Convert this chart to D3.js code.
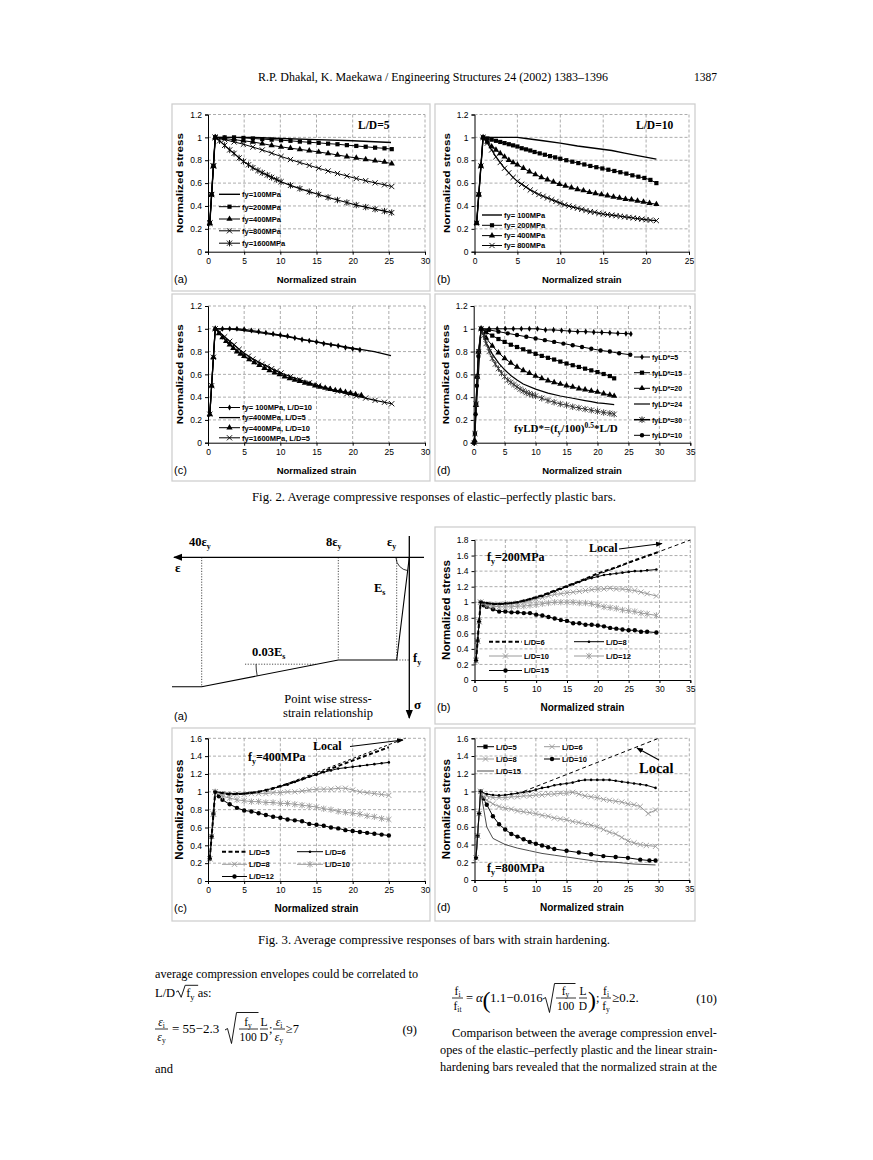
<!DOCTYPE html>
<html><head><meta charset="utf-8">
<script src="https://cdn.jsdelivr.net/npm/d3@7"></script>
<style>body{margin:0;background:#fff}svg{display:block}</style>
</head><body>
<script>
// ================= DATA =================
// tick values
const xt25 = [0,5,10,15,20,25];
const xt30 = [0,5,10,15,20,25,30];
const xt35 = [0,5,10,15,20,25,30,35];
const yt12 = [0,0.2,0.4,0.6,0.8,1,1.2];
const yt16 = [0,0.2,0.4,0.6,0.8,1,1.2,1.4,1.6];
const yt18 = [0,0.2,0.4,0.6,0.8,1,1.2,1.4,1.6,1.8];
const elastic = [[0.25,0.25],[0.5,0.5],[0.75,0.75]];

// Fig 2(a) L/D=5
const f2a_fy100 = [[1,1],[3,1],[6,1],[10,0.99],[15,0.98],[20,0.97],[25.3,0.955]];
const f2a_fy200 = [[1,1],[2.3,1],[3.6,1],[4.9,0.995],[6.2,0.99],[7.5,0.985],[8.8,0.98],[10.1,0.975],[11.4,0.97],[12.7,0.963],[14,0.957],[15.3,0.952],[16.6,0.945],[17.9,0.94],[19.2,0.932],[20.5,0.925],[21.8,0.918],[23.1,0.91],[24.4,0.904],[25.4,0.897]];
const f2a_fy400 = [[1,1],[2.3,0.99],[3.6,0.98],[4.9,0.97],[6.2,0.96],[7.5,0.945],[8.8,0.93],[10.1,0.917],[11.4,0.905],[12.7,0.895],[14,0.884],[15.3,0.872],[16.6,0.86],[17.9,0.846],[19.2,0.832],[20.5,0.82],[21.8,0.808],[23.1,0.795],[24.4,0.784],[25.4,0.77]];
const f2a_fy800 = [[1,1],[2.3,0.98],[3.6,0.96],[4.9,0.94],[6.2,0.915],[7.5,0.89],[8.8,0.862],[10.1,0.833],[11.4,0.806],[12.7,0.78],[14,0.755],[15.3,0.73],[16.6,0.706],[17.9,0.684],[19.2,0.662],[20.5,0.64],[21.8,0.621],[23.1,0.602],[24.4,0.585],[25.4,0.57]];
const f2a_fy1600 = [[1,1],[1.6,0.97],[2.3,0.93],[3,0.89],[3.6,0.86],[4.3,0.82],[4.9,0.79],[5.6,0.76],[6.2,0.735],[6.9,0.71],[7.5,0.69],[8.2,0.67],[8.8,0.65],[9.5,0.63],[10.1,0.612],[11.4,0.58],[12.7,0.552],[14,0.525],[15.3,0.5],[16.6,0.475],[17.9,0.452],[19.2,0.43],[20.5,0.408],[21.8,0.39],[23.1,0.372],[24.4,0.355],[25.4,0.342]];

// Fig 2(b) L/D=10
const f2b_fy100 = [[1,1],[5,1],[6,0.99],[8,0.97],[10,0.95],[12,0.925],[14,0.905],[16,0.885],[17.5,0.862],[19,0.84],[21.2,0.81]];
const f2b_fy200 = [[1,1],[1.5,0.99],[2,0.98],[2.5,0.97],[3,0.96],[3.5,0.95],[4,0.94],[4.5,0.93],[5,0.92],[5.5,0.905],[6,0.895],[6.5,0.885],[7,0.872],[7.6,0.86],[8.2,0.848],[8.8,0.836],[9.4,0.825],[10,0.813],[10.7,0.8],[11.4,0.787],[12.1,0.775],[12.8,0.763],[13.5,0.75],[14.2,0.739],[14.9,0.728],[15.6,0.717],[16.3,0.706],[17,0.695],[17.7,0.683],[18.4,0.668],[19.1,0.656],[19.8,0.645],[20.5,0.628],[21.2,0.6]];
const f2b_fy400 = [[1,1],[1.5,0.96],[2,0.92],[2.5,0.89],[3,0.86],[3.5,0.83],[4,0.8],[4.5,0.78],[5,0.76],[5.7,0.73],[6.4,0.7],[7.1,0.675],[7.8,0.65],[8.5,0.63],[9.2,0.61],[9.9,0.59],[10.6,0.575],[11.3,0.56],[12,0.545],[12.7,0.535],[13.4,0.52],[14.1,0.51],[14.8,0.5],[15.5,0.49],[16.2,0.48],[16.9,0.47],[17.6,0.46],[18.3,0.455],[19,0.445],[19.7,0.435],[20.4,0.425],[21.2,0.415]];
const f2b_fy800 = [[1,1],[1.5,0.95],[2,0.89],[2.5,0.83],[3,0.78],[3.5,0.73],[4,0.69],[4.5,0.65],[5,0.615],[5.5,0.59],[6,0.565],[6.5,0.54],[7,0.52],[7.5,0.5],[8,0.485],[8.5,0.47],[9,0.455],[9.5,0.44],[10,0.425],[10.5,0.41],[11,0.4],[11.5,0.39],[12,0.38],[12.5,0.37],[13,0.36],[13.5,0.35],[14,0.345],[14.5,0.335],[15,0.33],[15.5,0.325],[16,0.32],[16.5,0.315],[17,0.31],[17.5,0.305],[18,0.3],[18.5,0.295],[19,0.29],[19.5,0.285],[20,0.28],[20.5,0.276],[21.2,0.272]];

// Fig 2(c)
const f2c_fy100ld10 = [[1,1],[2,1],[3,1],[4,1],[5,0.995],[6,0.985],[7,0.975],[8,0.965],[9,0.955],[10,0.945],[11,0.935],[12,0.92],[13,0.905],[14,0.895],[15,0.885],[16,0.87],[17,0.86],[18,0.85],[19,0.835],[20,0.825],[21,0.815]];
const f2c_fy400ld5 = [[1,1],[3,1],[5,0.985],[10,0.94],[15,0.885],[20,0.83],[23,0.8],[25.3,0.765]];
const f2c_fy400ld10 = [[1,1],[1.5,0.96],[2,0.925],[2.5,0.89],[3,0.86],[3.5,0.83],[4,0.8],[4.5,0.78],[5,0.76],[5.7,0.73],[6.4,0.705],[7.1,0.68],[7.8,0.655],[8.5,0.635],[9.2,0.615],[9.9,0.6],[10.6,0.58],[11.3,0.565],[12,0.55],[12.7,0.54],[13.4,0.525],[14.1,0.515],[14.8,0.5],[15.5,0.49],[16.2,0.48],[16.9,0.47],[17.6,0.46],[18.3,0.455],[19,0.445],[19.7,0.435],[20.4,0.425],[21.2,0.415]];
const f2c_fy1600ld5 = [[1,1],[1.6,0.97],[2.3,0.93],[3,0.89],[3.6,0.86],[4.3,0.82],[4.9,0.79],[5.6,0.76],[6.2,0.735],[6.9,0.71],[7.5,0.69],[8.2,0.67],[8.8,0.65],[9.5,0.63],[10.1,0.612],[11.4,0.58],[12.7,0.552],[14,0.525],[15.3,0.5],[16.6,0.475],[17.9,0.452],[19.2,0.43],[20.5,0.41],[21.8,0.392],[23.1,0.372],[24.4,0.355],[25.4,0.342]];

// Fig 2(d) fyLD*
const f2d_ld5  = [[0.1,0],[0.3,0.25],[0.55,0.5],[0.8,0.75],[1.2,1],[2.5,1],[3.8,1],[5.1,1],[6.4,1],[7.7,1],[9,1],[10.3,1],[11.6,0.99],[12.9,0.99],[14.2,0.985],[15.5,0.98],[16.8,0.975],[18.1,0.975],[19.4,0.97],[20.7,0.968],[22,0.965],[23.3,0.96],[24.6,0.958],[25.4,0.955]];
const f2d_ld15 = [[0.2,0.08],[0.4,0.34],[0.6,0.58],[0.8,0.8],[1.2,1],[2,0.97],[3,0.94],[4,0.91],[5,0.885],[6,0.86],[7,0.84],[8,0.82],[9,0.8],[10,0.78],[11,0.762],[12,0.745],[13,0.73],[14,0.712],[15,0.695],[16,0.68],[17,0.665],[18,0.65],[19,0.635],[20,0.62],[21,0.603],[22,0.585],[22.7,0.565]];
const f2d_ld20 = [[0.15,0.02],[0.35,0.33],[0.55,0.58],[0.75,0.8],[1.2,1],[2,0.92],[3,0.85],[4,0.79],[5,0.74],[6,0.7],[7,0.665],[8,0.635],[9,0.61],[10,0.585],[11,0.565],[12,0.545],[13,0.53],[14,0.515],[15,0.5],[16,0.49],[17,0.475],[18,0.465],[19,0.455],[20,0.445],[21,0.43],[22,0.42],[22.7,0.41]];
const f2d_ld24 = [[0.1,0],[1.2,1],[2,0.88],[3,0.78],[4,0.7],[5,0.64],[6,0.59],[7,0.55],[8,0.515],[10,0.47],[12,0.435],[14,0.41],[16,0.39],[18,0.37],[19,0.36],[20,0.35],[21,0.345],[22.7,0.335]];
const f2d_ld30 = [[0.1,0],[0.2,0.08],[0.4,0.34],[0.6,0.58],[0.8,0.8],[1.2,1],[1.6,0.94],[2,0.87],[2.5,0.8],[3,0.74],[3.5,0.69],[4,0.65],[4.5,0.61],[5,0.58],[5.5,0.55],[6,0.53],[6.5,0.51],[7,0.49],[7.5,0.47],[8,0.455],[8.5,0.44],[9,0.43],[9.5,0.42],[10,0.41],[11,0.39],[12,0.37],[13,0.355],[14,0.34],[15,0.33],[16,0.315],[17,0.305],[18,0.295],[19,0.285],[20,0.275],[21,0.265],[22,0.258],[22.7,0.25]];
const f2d_ld10 = [[0.1,0],[0.3,0.25],[0.5,0.5],[0.75,0.76],[1.2,1],[2.5,0.99],[4,0.975],[5.5,0.96],[7,0.945],[8.5,0.93],[10,0.915],[11.5,0.9],[13,0.885],[14.5,0.87],[16,0.855],[17.5,0.84],[19,0.825],[20.5,0.81],[22,0.8],[23.5,0.785],[25.3,0.772]];

// Fig 3(b) fy=200MPa
const f3b_local = [[8,1],[35,1.8]];
const f3b_ld6  = [[1,1],[3,0.975],[5,0.98],[7,1],[9,1.04],[11,1.09],[13,1.15],[15,1.21],[17,1.27],[20,1.37],[23,1.45],[26,1.54],[30,1.65]];
const f3b_ld8  = [[1,1],[2,0.99],[3,0.98],[4,0.98],[5,0.985],[6,0.99],[7,1],[8,1.02],[9,1.04],[10,1.06],[11,1.08],[12,1.11],[13,1.14],[14,1.17],[15,1.2],[16,1.23],[17,1.26],[18,1.29],[19,1.31],[20,1.33],[21,1.35],[22,1.36],[23,1.37],[24,1.38],[25,1.39],[26,1.4],[27,1.4],[28,1.41],[29.5,1.42]];
const f3b_ld10 = [[1,1],[2,0.98],[3,0.97],[4,0.97],[5,0.98],[6,0.98],[7,0.99],[8,1],[9,1.02],[10,1.04],[11,1.06],[12,1.08],[13,1.1],[14,1.11],[15,1.12],[16,1.13],[17,1.14],[18,1.15],[19,1.16],[20,1.17],[21,1.17],[22,1.18],[23,1.17],[24,1.17],[25,1.16],[26,1.15],[27,1.13],[28,1.11],[29.5,1.08]];
const f3b_ld12 = [[1,1],[2,0.96],[3,0.95],[4,0.94],[5,0.94],[6,0.94],[7,0.95],[8,0.95],[9,0.96],[10,0.97],[11,0.98],[12,0.99],[13,1],[14,1],[15,1],[16,1],[17,0.99],[18,0.99],[19,0.98],[20,0.96],[21,0.94],[22,0.93],[23,0.92],[24,0.9],[25,0.89],[26,0.88],[27,0.86],[28,0.85],[29.5,0.83]];
const f3b_ld15 = [[1,1],[1.5,0.96],[2,0.94],[3,0.91],[4,0.88],[5,0.88],[6,0.87],[7,0.87],[8,0.86],[9,0.86],[10,0.84],[11,0.83],[12,0.81],[13,0.79],[14,0.77],[15,0.76],[16,0.73],[17,0.73],[18,0.71],[19,0.71],[20,0.7],[21,0.69],[22,0.67],[23,0.66],[24,0.65],[25,0.64],[26,0.64],[27,0.62],[28,0.62],[29.5,0.61]];

// Fig 3(c) fy=400MPa
const f3c_local = [[8,1],[27.3,1.6]];
const f3c_ld5  = [[1,1],[3,0.97],[5,0.98],[7,1],[9,1.04],[11,1.09],[13,1.14],[15,1.2],[17,1.26],[19,1.32],[21,1.38],[23,1.44],[25,1.5]];
const f3c_ld6  = [[1,1],[2,0.99],[3,0.98],[4,0.98],[5,0.98],[6,0.99],[7,1],[8,1.02],[9,1.04],[10,1.06],[11,1.08],[12,1.11],[13,1.14],[14,1.17],[15,1.19],[16,1.22],[17,1.24],[18,1.26],[19,1.27],[20,1.28],[21,1.29],[22,1.3],[23,1.31],[24,1.32],[25,1.33]];
const f3c_ld8  = [[1,1],[2,0.98],[3,0.97],[4,0.97],[5,0.97],[6,0.98],[7,0.98],[8,0.98],[9,0.99],[10,0.99],[11,1],[12,1],[13,1.01],[14,1.02],[15,1.03],[16,1.03],[17,1.03],[18,1.04],[19,1.04],[20,1.02],[21,1],[22,0.99],[23,0.98],[24,0.97],[25,0.96]];
const f3c_ld10 = [[1,1],[2,0.95],[3,0.93],[4,0.91],[5,0.9],[6,0.89],[7,0.89],[8,0.88],[9,0.88],[10,0.87],[11,0.87],[12,0.86],[13,0.85],[14,0.84],[15,0.83],[16,0.81],[17,0.8],[18,0.78],[19,0.77],[20,0.76],[21,0.75],[22,0.73],[23,0.72],[24,0.7],[25,0.69]];
const f3c_ld12 = [[1,1],[1.5,0.95],[2,0.91],[3,0.86],[4,0.82],[5,0.79],[6,0.78],[7,0.76],[8,0.74],[9,0.72],[10,0.71],[11,0.69],[12,0.68],[13,0.67],[14,0.64],[15,0.63],[16,0.62],[17,0.6],[18,0.59],[19,0.57],[20,0.56],[21,0.55],[22,0.54],[23,0.53],[24,0.52],[25,0.51]];

// Fig 3(d) fy=800MPa
const f3d_local = [[8,1],[30,1.6]];
const f3d_ld5  = [[1,1],[2,0.97],[3,0.96],[4,0.955],[5,0.96],[6,0.97],[7,0.98],[8,0.99],[9,1],[10,1.02],[11,1.04],[12,1.05],[13,1.07],[14,1.08],[15,1.09],[16,1.1],[17,1.12],[18,1.13],[19,1.13],[20,1.13],[21,1.13],[22,1.13],[23,1.12],[24,1.11],[25,1.1],[26,1.09],[27,1.08],[28,1.07],[29.5,1.04]];
const f3d_ld6  = [[1,1],[2,0.95],[3,0.93],[4,0.93],[5,0.93],[6,0.94],[7,0.94],[8,0.95],[9,0.95],[10,0.96],[11,0.96],[12,0.97],[13,0.97],[14,0.98],[15,0.98],[16,0.99],[17,0.97],[18,0.95],[19,0.94],[20,0.93],[21,0.91],[22,0.9],[23,0.89],[24,0.88],[25,0.86],[26,0.85],[27,0.83],[28.3,0.75],[29.5,0.79]];
const f3d_ld8  = [[1,1],[1.5,0.94],[2,0.9],[3,0.86],[4,0.83],[5,0.81],[6,0.8],[7,0.78],[8,0.77],[9,0.76],[10,0.75],[11,0.73],[12,0.72],[13,0.7],[14,0.69],[15,0.68],[16,0.66],[17,0.65],[18,0.63],[19,0.62],[20,0.6],[21,0.57],[22,0.54],[23,0.52],[24,0.48],[25,0.44],[26,0.42],[27,0.4],[28,0.39],[29.5,0.38]];
const f3d_ld10 = [[1,1],[1.5,0.92],[2,0.85],[3,0.72],[4,0.63],[5,0.57],[6,0.52],[7,0.49],[8,0.46],[9,0.43],[10,0.41],[11,0.39],[12,0.37],[13,0.35],[15,0.33],[17,0.31],[19,0.29],[21,0.27],[23,0.26],[25,0.25],[27,0.23],[28.5,0.22],[29.5,0.22]];
const f3d_ld15 = [[1,1],[1.5,0.8],[2,0.6],[3,0.47],[5,0.4],[7,0.36],[9,0.33],[11,0.3],[13,0.28],[15,0.26],[17,0.24],[20,0.21],[23,0.2],[26,0.18],[29.5,0.17]];

// ================= DRAWING =================
const W = 873, H = 1160;
const SANS = "'Liberation Sans', Arial, Helvetica, sans-serif";
const SERIF = "'Liberation Serif', 'Times New Roman', Times, serif";
const GRAY = '#9a9a9a';
const svg = d3.select('body').append('svg').attr('width', W).attr('height', H);

const defs = svg.append('defs');
defs.append('marker').attr('id','arr').attr('viewBox','0 0 10 10').attr('refX',9).attr('refY',5)
  .attr('markerWidth',7).attr('markerHeight',7).attr('orient','auto')
  .append('path').attr('d','M0,1L10,5L0,9z').attr('fill','#000');
defs.append('marker').attr('id','arr2').attr('viewBox','0 0 10 10').attr('refX',9).attr('refY',5)
  .attr('markerWidth',6).attr('markerHeight',6).attr('orient','auto')
  .append('path').attr('d','M0,1L10,5L0,9z').attr('fill','#000');

function drawMarker(g, type, cx, cy, col) {
  const t = `translate(${cx},${cy})`;
  if (type === 'square') g.append('rect').attr('x', cx-2.1).attr('y', cy-2.1).attr('width', 4.2).attr('height', 4.2).attr('fill', col);
  else if (type === 'triangle') g.append('path').attr('d', d3.symbol(d3.symbolTriangle, 17)()).attr('transform', t).attr('fill', col);
  else if (type === 'diamond') g.append('path').attr('d', d3.symbol(d3.symbolDiamond, 11)()).attr('transform', t).attr('fill', col);
  else if (type === 'x') g.append('path').attr('d', 'M-2.6,-2.6L2.6,2.6M-2.6,2.6L2.6,-2.6').attr('transform', t).attr('stroke', col).attr('stroke-width', 0.9).attr('fill','none');
  else if (type === 'ast') g.append('path').attr('d', 'M-2.6,-2.6L2.6,2.6M-2.6,2.6L2.6,-2.6M0,-3.2L0,3.2').attr('transform', t).attr('stroke', col).attr('stroke-width', 0.9).attr('fill','none');
  else if (type === 'dot') g.append('circle').attr('cx', cx).attr('cy', cy).attr('r', 1.3).attr('fill', col);
  else if (type === 'bigdot') g.append('circle').attr('cx', cx).attr('cy', cy).attr('r', 2.2).attr('fill', col);
}

function frame(x0, y0, x1, y1) {
  svg.append('rect').attr('x', x0).attr('y', y0).attr('width', x1-x0).attr('height', y1-y0)
    .attr('fill', 'none').attr('stroke', '#cfcfcf').attr('stroke-width', 1.3);
}

function txt(g, x, y, s, opt={}) {
  const t = g.append('text').attr('x', x).attr('y', y).text(s)
    .attr('font-family', opt.font || SANS).attr('font-size', opt.size || 8)
    .attr('font-weight', opt.weight || 'normal').attr('text-anchor', opt.anchor || 'start')
    .attr('fill', opt.fill || '#000');
  if (opt.italic) t.attr('font-style', 'italic');
  if (opt.len) t.attr('textLength', opt.len).attr('lengthAdjust', 'spacingAndGlyphs');
  return t;
}

function panel(p) {
  const x = d3.scaleLinear().domain(p.xd).range([p.px0, p.px1]);
  const y = d3.scaleLinear().domain(p.yd).range([p.py1, p.py0]);
  const g = svg.append('g');
  // grid
  p.yt.filter(v => v !== 0).forEach(v => g.append('line').attr('x1', p.px0).attr('x2', p.px1)
    .attr('y1', y(v)).attr('y2', y(v)).attr('stroke', '#8a8a8a').attr('stroke-width', 0.7).attr('stroke-dasharray', '3,2'));
  p.xt.filter(v => v !== 0).forEach(v => g.append('line').attr('y1', p.py0).attr('y2', p.py1)
    .attr('x1', x(v)).attr('x2', x(v)).attr('stroke', '#8a8a8a').attr('stroke-width', 0.7).attr('stroke-dasharray', '3,2'));
  // series
  const line = d3.line().x(d => x(d[0])).y(d => y(d[1]));
  p.series.forEach(s => {
    const col = s.color || '#000';
    g.append('path').attr('d', line(s.data)).attr('fill', 'none').attr('stroke', col)
      .attr('stroke-width', s.w || 1).attr('stroke-dasharray', s.dash || null);
    if (s.marker) s.data.forEach(d => drawMarker(g, s.marker, x(d[0]), y(d[1]), col));
  });
  // axes
  const ax = g.append('g').attr('transform', `translate(0,${p.py1})`)
    .call(d3.axisBottom(x).tickValues(p.xt).tickSize(3).tickPadding(3).tickFormat(d => d));
  const ay = g.append('g').attr('transform', `translate(${p.px0},0)`)
    .call(d3.axisLeft(y).tickValues(p.yt).tickSize(3).tickPadding(3).tickFormat(d => d));
  [ax, ay].forEach(a => {
    a.selectAll('text').attr('font-family', SANS).attr('font-size', p.tickSize || 8.5).attr('fill', '#000');
    a.selectAll('line').attr('stroke', '#000');
    a.select('.domain').attr('stroke', '#000').attr('stroke-width', 1);
  });
  // titles
  txt(g, (p.px0 + p.px1) / 2, p.py1 + 31, 'Normalized strain', {size: p.titleSize || 9.5, weight: 'bold', anchor: 'middle'});
  txt(g, 0, 0, 'Normalized stress', {size: p.titleSize || 9.5, weight: 'bold', anchor: 'middle', len: p.yLen})
    .attr('transform', `translate(${p.px0 - 25},${(p.py0 + p.py1) / 2}) rotate(-90)`);
  txt(g, p.tagX, p.py1 + 31, p.tag, {size: 11});
  // legend
  (p.legend || []).forEach(l => {
    const col = l.color || '#000';
    g.append('line').attr('x1', l.x0).attr('x2', l.x1).attr('y1', l.y).attr('y2', l.y)
      .attr('stroke', col).attr('stroke-width', l.w || 1).attr('stroke-dasharray', l.dash || null);
    if (l.marker) drawMarker(g, l.marker, (l.x0 + l.x1) / 2, l.y, col);
    txt(g, l.x1 + 2, l.y + 2.8, l.label, {size: l.size || 7.5, weight: 'bold'});
  });
  return {x, y, g};
}

const withE = d => elastic.concat(d);

// ---------- Header ----------
txt(svg, 433, 81, 'R.P. Dhakal, K. Maekawa / Engineering Structures 24 (2002) 1383–1396', {font: SERIF, size: 11.5, anchor: 'middle', len: 350});
txt(svg, 717, 81, '1387', {font: SERIF, size: 11.5, anchor: 'end'});

// ---------- Fig 2 frames ----------
frame(172, 104, 430, 291);
frame(435, 104, 695, 291);
frame(172, 294, 430, 481);
frame(435, 294, 695, 481);

// Fig 2(a)
(function() {
  const L = [194.3, 206.7, 219, 230.8, 243.2];
  panel({px0: 208, px1: 425, py0: 114.5, py1: 251.7, xd: [0,30], yd: [0,1.2], xt: xt30, yt: yt12,
    tag: '(a)', tagX: 174, yLen: 100,
    series: [
      {data: withE(f2a_fy100), w: 1.4},
      {data: withE(f2a_fy200), marker: 'square'},
      {data: withE(f2a_fy400), marker: 'triangle'},
      {data: withE(f2a_fy800), marker: 'x'},
      {data: withE(f2a_fy1600), marker: 'ast', w: 1.2}
    ],
    legend: [
      {x0: 219, x1: 240, y: L[0], label: 'fy=100MPa', w: 1.4},
      {x0: 219, x1: 240, y: L[1], label: 'fy=200MPa', marker: 'square'},
      {x0: 219, x1: 240, y: L[2], label: 'fy=400MPa', marker: 'triangle'},
      {x0: 219, x1: 240, y: L[3], label: 'fy=800MPa', marker: 'x'},
      {x0: 219, x1: 240, y: L[4], label: 'fy=1600MPa', marker: 'ast'}
    ]});
  txt(svg, 358, 129, 'L/D=5', {font: SERIF, size: 11.5, weight: 'bold'});
})();

// Fig 2(b)
(function() {
  const L = [215, 225.3, 235.6, 245.5];
  panel({px0: 474.5, px1: 689, py0: 114.5, py1: 251.7, xd: [0,25], yd: [0,1.2], xt: xt25, yt: yt12,
    tag: '(b)', tagX: 437, yLen: 100,
    series: [
      {data: withE(f2b_fy100), w: 1.4},
      {data: withE(f2b_fy200), marker: 'square'},
      {data: withE(f2b_fy400), marker: 'triangle'},
      {data: withE(f2b_fy800), marker: 'x', w: 1.2}
    ],
    legend: [
      {x0: 482, x1: 502, y: L[0], label: 'fy= 100MPa', w: 1.4},
      {x0: 482, x1: 502, y: L[1], label: 'fy= 200MPa', marker: 'square'},
      {x0: 482, x1: 502, y: L[2], label: 'fy= 400MPa', marker: 'triangle'},
      {x0: 482, x1: 502, y: L[3], label: 'fy= 800MPa', marker: 'x'}
    ]});
  txt(svg, 636, 129, 'L/D=10', {font: SERIF, size: 11.5, weight: 'bold'});
})();

// Fig 2(c)
(function() {
  const L = [407.5, 417.6, 427.7, 437.8];
  panel({px0: 208, px1: 425, py0: 306, py1: 442.7, xd: [0,30], yd: [0,1.2], xt: xt30, yt: yt12,
    tag: '(c)', tagX: 174, yLen: 100,
    series: [
      {data: withE(f2c_fy100ld10), marker: 'diamond', w: 1.2},
      {data: withE(f2c_fy400ld5), w: 1.3},
      {data: withE(f2c_fy400ld10), marker: 'triangle'},
      {data: withE(f2c_fy1600ld5), marker: 'x', w: 1.2}
    ],
    legend: [
      {x0: 219, x1: 240, y: L[0], label: 'fy= 100MPa,  L/D=10', marker: 'diamond'},
      {x0: 219, x1: 240, y: L[1], label: 'fy=400MPa,  L/D=5', w: 1.3},
      {x0: 219, x1: 240, y: L[2], label: 'fy=400MPa,  L/D=10', marker: 'triangle'},
      {x0: 219, x1: 240, y: L[3], label: 'fy=1600MPa,  L/D=5', marker: 'x'}
    ]});
})();

// Fig 2(d)
(function() {
  const L = [357, 372.7, 388.3, 404, 419.7, 435.3];
  panel({px0: 473.7, px1: 690.3, py0: 306, py1: 442.7, xd: [0,35], yd: [0,1.2], xt: xt35, yt: yt12,
    tag: '(d)', tagX: 437, yLen: 100,
    series: [
      {data: f2d_ld5, marker: 'diamond'},
      {data: f2d_ld15, marker: 'square'},
      {data: f2d_ld20, marker: 'triangle'},
      {data: f2d_ld24, w: 1.2},
      {data: f2d_ld30, marker: 'ast', color: '#333'},
      {data: f2d_ld10, marker: 'bigdot'}
    ],
    legend: [
      {x0: 634, x1: 650, y: L[0], label: 'fyLD*=5', marker: 'diamond', size: 7},
      {x0: 634, x1: 650, y: L[1], label: 'fyLD*=15', marker: 'square', size: 7},
      {x0: 634, x1: 650, y: L[2], label: 'fyLD*=20', marker: 'triangle', size: 7},
      {x0: 634, x1: 650, y: L[3], label: 'fyLD*=24', w: 1.2, size: 7},
      {x0: 634, x1: 650, y: L[4], label: 'fyLD*=30', marker: 'ast', w: 1.5, size: 7},
      {x0: 634, x1: 650, y: L[5], label: 'fyLD*=10', marker: 'bigdot', size: 7}
    ]});
  const t = txt(svg, 514, 432, 'fyLD*=(f', {font: SERIF, size: 11, weight: 'bold'});
  t.append('tspan').attr('dy', 2.5).attr('font-size', 7.5).text('y');
  t.append('tspan').attr('dy', -2.5).text('/100)');
  t.append('tspan').attr('dy', -4).attr('font-size', 7.5).text('0.5');
  t.append('tspan').attr('dy', 4).text('*L/D');
})();

txt(svg, 434, 501, 'Fig. 2.   Average compressive responses of elastic–perfectly plastic bars.', {font: SERIF, size: 11.5, anchor: 'middle', len: 364});

// ---------- Fig 3 (a) schematic ----------
(function() {
  const g = svg.append('g');
  const ex = d3.scaleLinear().domain([0, 1, 8, 40]).range([409.3, 396.7, 338.3, 201.7]); // strain / eps_y
  const sy = d3.scaleLinear().domain([0, 1, 1.96]).range([557.3, 660, 686.7]);           // stress / f_y
  const strainPts = [0, 1, 8, 40];
  const stressPts = [0, 1, 1, 1.96];
  // axes
  g.append('line').attr('x1', 424).attr('x2', 174).attr('y1', 557.3).attr('y2', 557.3)
    .attr('stroke', '#000').attr('stroke-width', 1.3).attr('marker-end', 'url(#arr)');
  g.append('line').attr('x1', 409.3).attr('x2', 409.3).attr('y1', 536).attr('y2', 718)
    .attr('stroke', '#000').attr('stroke-width', 1.3).attr('marker-end', 'url(#arr)');
  // dotted guides
  const dot = (x1, y1, x2, y2) => g.append('line').attr('x1', x1).attr('y1', y1).attr('x2', x2).attr('y2', y2)
    .attr('stroke', '#000').attr('stroke-width', 0.7).attr('stroke-dasharray', '1.2,1.5');
  dot(ex(40), 557.3, ex(40), sy(1.96));
  dot(ex(8), 557.3, ex(8), sy(1));
  dot(ex(1), 557.3, ex(1), sy(1));
  dot(ex(1), sy(1), ex(0), sy(1));
  dot(245, 664.2, 316, 664.2);
  // stress-strain path
  const pts = strainPts.map((e, i) => [ex(e), sy(stressPts[i])]);
  pts.push([172, sy(1.96)]);
  g.append('path').attr('d', d3.line()(pts)).attr('fill', 'none').attr('stroke', '#000').attr('stroke-width', 1.1);
  // arcs
  g.append('path').attr('d', 'M396,558 A13.5,13.5 0 0 0 407.6,570.6').attr('fill', 'none').attr('stroke', '#000').attr('stroke-width', 0.8);
  g.append('path').attr('d', 'M256,664.2 A60,60 0 0 0 257.2,675.8').attr('fill', 'none').attr('stroke', '#000').attr('stroke-width', 0.8);
  // labels
  const lab = (x, y, a, b, size) => {
    const t = txt(g, x, y, a, {font: SERIF, size: size || 12.5, weight: 'bold'});
    if (b) t.append('tspan').attr('dy', 3).attr('font-size', 8).text(b);
    return t;
  };
  lab(189, 546, '40ε', 'y');
  lab(326, 546, '8ε', 'y');
  lab(387, 546, 'ε', 'y');
  lab(175, 572, 'ε', null, 13);
  lab(374, 592, 'E', 's');
  lab(252, 656, '0.03E', 's');
  lab(413, 662, 'f', 'y');
  lab(414, 709, 'σ', null, 13);
  txt(g, 328, 703, 'Point wise stress-', {font: SERIF, size: 12.5, anchor: 'middle'});
  txt(g, 328, 717, 'strain relationship', {font: SERIF, size: 12.5, anchor: 'middle'});
  txt(g, 174, 720, '(a)', {size: 11});
})();

// ---------- Fig 3 frames ----------
frame(435, 527, 695, 724);
frame(172, 728, 430, 921);
frame(435, 728, 695, 921);

// Fig 3(b)
(function() {
  const R = [641.7, 656, 670.5];
  panel({px0: 474.5, px1: 690.3, py0: 540, py1: 680, xd: [0,35], yd: [0,1.8], xt: xt35, yt: yt18,
    tag: '(b)', tagX: 437, titleSize: 10, yLen: 100, tickSize: 8.5,
    series: [
      {data: f3b_local, dash: '4,3', w: 1},
      {data: withE(f3b_ld15), marker: 'bigdot'},
      {data: withE(f3b_ld12), marker: 'ast', color: GRAY},
      {data: withE(f3b_ld10), marker: 'x', color: GRAY},
      {data: withE(f3b_ld8), marker: 'dot'},
      {data: withE(f3b_ld6), dash: '4,2.5', w: 2}
    ],
    legend: [
      {x0: 489, x1: 522, y: R[0], label: 'L/D=6', dash: '4,2.5', w: 2},
      {x0: 574, x1: 604, y: R[0], label: 'L/D=8', marker: 'dot'},
      {x0: 489, x1: 522, y: R[1], label: 'L/D=10', marker: 'x', color: GRAY},
      {x0: 574, x1: 604, y: R[1], label: 'L/D=12', marker: 'ast', color: GRAY},
      {x0: 489, x1: 522, y: R[2], label: 'L/D=15', marker: 'bigdot'}
    ]});
  txt(svg, 589, 552, 'Local', {font: SERIF, size: 12, weight: 'bold'});
  svg.append('line').attr('x1', 619).attr('y1', 549).attr('x2', 662).attr('y2', 543.5)
    .attr('stroke', '#000').attr('stroke-width', 1.1).attr('marker-end', 'url(#arr2)');
  const t = txt(svg, 487, 561, 'f', {font: SERIF, size: 12, weight: 'bold'});
  t.append('tspan').attr('dy', 3).attr('font-size', 8).text('y');
  t.append('tspan').attr('dy', -3).text('=200MPa');
})();

// Fig 3(c)
(function() {
  const R = [851.7, 864.3, 876.5];
  panel({px0: 208, px1: 425, py0: 738.3, py1: 881, xd: [0,30], yd: [0,1.6], xt: xt30, yt: yt16,
    tag: '(c)', tagX: 174, titleSize: 10, yLen: 100,
    series: [
      {data: f3c_local, dash: '3,2.5', w: 1},
      {data: withE(f3c_ld12), marker: 'bigdot'},
      {data: withE(f3c_ld10), marker: 'ast', color: GRAY},
      {data: withE(f3c_ld8), marker: 'x', color: GRAY},
      {data: withE(f3c_ld6), marker: 'dot'},
      {data: withE(f3c_ld5), dash: '4,2.5', w: 2}
    ],
    legend: [
      {x0: 222, x1: 247, y: R[0], label: 'L/D=5', dash: '4,2.5', w: 2},
      {x0: 297, x1: 323, y: R[0], label: 'L/D=6', marker: 'dot'},
      {x0: 222, x1: 247, y: R[1], label: 'L/D=8', marker: 'x', color: GRAY},
      {x0: 297, x1: 323, y: R[1], label: 'L/D=10', marker: 'ast', color: GRAY},
      {x0: 222, x1: 247, y: R[2], label: 'L/D=12', marker: 'bigdot'}
    ]});
  txt(svg, 313, 750, 'Local', {font: SERIF, size: 12, weight: 'bold'});
  svg.append('line').attr('x1', 350).attr('y1', 746.5).attr('x2', 403).attr('y2', 740)
    .attr('stroke', '#000').attr('stroke-width', 1.1).attr('marker-end', 'url(#arr2)');
  const t = txt(svg, 248, 761, 'f', {font: SERIF, size: 12, weight: 'bold'});
  t.append('tspan').attr('dy', 3).attr('font-size', 8).text('y');
  t.append('tspan').attr('dy', -3).text('=400MPa');
})();

// Fig 3(d)
(function() {
  const R = [746.7, 759, 771];
  panel({px0: 474.5, px1: 689.3, py0: 738.3, py1: 880, xd: [0,35], yd: [0,1.6], xt: xt35, yt: yt16,
    tag: '(d)', tagX: 437, titleSize: 10, yLen: 100,
    series: [
      {data: f3d_local, dash: '4,3', w: 1},
      {data: withE(f3d_ld15), w: 0.7},
      {data: withE(f3d_ld10), marker: 'bigdot'},
      {data: withE(f3d_ld8), marker: 'x', color: GRAY},
      {data: withE(f3d_ld6), marker: 'x', color: GRAY},
      {data: withE(f3d_ld5), marker: 'dot'}
    ],
    legend: [
      {x0: 477, x1: 494, y: R[0], label: 'L/D=5', marker: 'square'},
      {x0: 544, x1: 560, y: R[0], label: 'L/D=6', marker: 'x', color: GRAY},
      {x0: 477, x1: 494, y: R[1], label: 'L/D=8', marker: 'x', color: GRAY},
      {x0: 544, x1: 560, y: R[1], label: 'L/D=10', marker: 'bigdot'},
      {x0: 477, x1: 494, y: R[2], label: 'L/D=15', w: 0.7}
    ]});
  txt(svg, 639, 773, 'Local', {font: SERIF, size: 14.5, weight: 'bold'});
  svg.append('line').attr('x1', 659).attr('y1', 760).attr('x2', 637).attr('y2', 748)
    .attr('stroke', '#000').attr('stroke-width', 1.1).attr('marker-end', 'url(#arr2)');
  const t = txt(svg, 487, 872, 'f', {font: SERIF, size: 12, weight: 'bold'});
  t.append('tspan').attr('dy', 3).attr('font-size', 8).text('y');
  t.append('tspan').attr('dy', -3).text('=800MPa');
})();

txt(svg, 434, 944, 'Fig. 3.   Average compressive responses of bars with strain hardening.', {font: SERIF, size: 11.5, anchor: 'middle', len: 352});

// ---------- Body text ----------
(function() {
  const g = svg.append('g');
  const S = 12.5;
  txt(g, 155, 978, 'average compression envelopes could be correlated to', {font: SERIF, size: 12, len: 263});
  // L/D sqrt fy as:
  const t2 = txt(g, 155, 997, 'L/D', {font: SERIF, size: S});
  const w1 = t2.node().getComputedTextLength();
  g.append('path').attr('d', `M${155+w1+1},992 l2,-1.2 l3,6.5 l4,-12 h13`).attr('fill', 'none').attr('stroke', '#000').attr('stroke-width', 0.9);
  const t3 = txt(g, 155 + w1 + 11, 997, 'f', {font: SERIF, size: S});
  t3.append('tspan').attr('dy', 2.5).attr('font-size', 8.5).text('y');
  t3.append('tspan').attr('dy', -2.5).text(' as:');

  const frac = (cx, x0, x1, ybar, num, numSub, den, denSub, ital) => {
    g.append('line').attr('x1', x0).attr('x2', x1).attr('y1', ybar).attr('y2', ybar).attr('stroke', '#000').attr('stroke-width', 0.8);
    const n = txt(g, cx, ybar - 3.5, num, {font: SERIF, size: 11.5, anchor: 'middle', italic: ital});
    if (numSub) { n.append('tspan').attr('dy', 2.5).attr('font-size', 7.5).attr('font-style', 'normal').text(numSub); }
    const d = txt(g, cx, ybar + 11.5, den, {font: SERIF, size: 11.5, anchor: 'middle', italic: ital});
    if (denSub) { d.append('tspan').attr('dy', 2.5).attr('font-size', 7.5).attr('font-style', 'normal').text(denSub); }
  };
  // Eq (9)
  frac(161.5, 155, 168, 1029, 'ε', 'i', 'ε', 'y', true);
  txt(g, 172, 1033, '= 55−2.3', {font: SERIF, size: 13});
  g.append('path').attr('d', 'M225,1030 l2.5,-1.5 l4,15 l5,-31 h22').attr('fill', 'none').attr('stroke', '#000').attr('stroke-width', 0.9);
  frac(248, 239, 258, 1029, 'f', 'y', '100', null, false);
  frac(264, 260, 268, 1029, 'L', null, 'D', null, false);
  txt(g, 269, 1033, ';', {font: SERIF, size: S});
  frac(279, 273, 285, 1029, 'ε', 'i', 'ε', 'y', true);
  txt(g, 286, 1033, '≥7', {font: SERIF, size: S});
  txt(g, 417, 1034, '(9)', {font: SERIF, size: S, anchor: 'end'});
  txt(g, 155, 1073, 'and', {font: SERIF, size: S});

  // Eq (10)
  frac(457.5, 452, 463, 998, 'f', 'i', 'f', 'it', false);
  txt(g, 466, 1002, '=', {font: SERIF, size: S});
  txt(g, 476, 1002, 'α', {font: SERIF, size: 13, italic: true});
  txt(g, 482.5, 1008, '(', {font: SERIF, size: 24});
  txt(g, 490, 1002, '1.1−0.016', {font: SERIF, size: 13});
  g.append('path').attr('d', 'M543,999 l2.5,-1.5 l4,15 l5,-29 h21').attr('fill', 'none').attr('stroke', '#000').attr('stroke-width', 0.9);
  frac(565.5, 556, 576, 998, 'f', 'y', '100', null, false);
  frac(583, 579, 587, 998, 'L', null, 'D', null, false);
  txt(g, 588, 1008, ')', {font: SERIF, size: 24});
  txt(g, 596, 1002, ';', {font: SERIF, size: S});
  frac(606, 601, 611, 998, 'f', 'i', 'f', 'y', false);
  txt(g, 612, 1002, '≥0.2.', {font: SERIF, size: 13});
  txt(g, 717, 1003, '(10)', {font: SERIF, size: S, anchor: 'end'});

  txt(g, 452, 1037, 'Comparison between the average compression envel-', {font: SERIF, size: S, len: 265});
  txt(g, 440, 1054, 'opes of the elastic–perfectly plastic and the linear strain-', {font: SERIF, size: S, len: 277});
  txt(g, 440, 1071, 'hardening bars revealed that the normalized strain at the', {font: SERIF, size: S, len: 277});
})();
</script>
</body></html>
